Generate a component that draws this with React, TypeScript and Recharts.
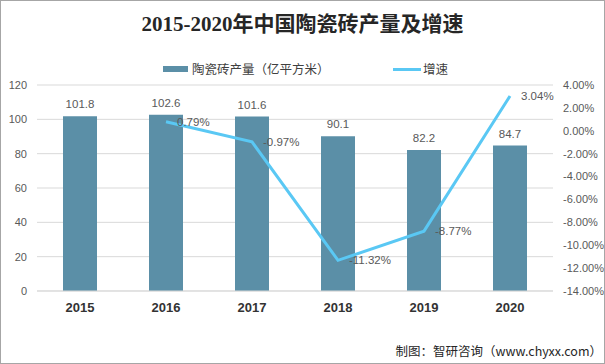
import React from "react";
import { ComposedChart, Bar, Line, XAxis, YAxis, CartesianGrid, Legend, LabelList } from "recharts";

const years = ["2015", "2016", "2017", "2018", "2019", "2020"];
const output = [101.8, 102.6, 101.6, 90.1, 82.2, 84.7];
const growth: (number | null)[] = [null, 0.79, -0.97, -11.32, -8.77, 3.04];
const leftTicks = [0, 20, 40, 60, 80, 100, 120];
const rightTicks = [-14, -12, -10, -8, -6, -4, -2, 0, 2, 4];

const data = years.map((y, i) => ({ year: y, output: output[i], growth: growth[i] }));

const BAR = "#5b8fa7";
const LINE = "#5ac8f4";
const numFont = "'Liberation Sans', 'Noto Sans CJK SC', sans-serif";
const cjkFont = "'Noto Sans CJK SC', sans-serif";

function GrowthLabel(props: any) {
  const { x, y, value } = props;
  if (value == null) return null;
  return (
    <text x={x + 11} y={y + 4} fill="#595959" fontSize={11.5} fontFamily={numFont} textAnchor="start">
      {value.toFixed(2)}%
    </text>
  );
}

function LegendContent() {
  const txt: React.CSSProperties = { position: "absolute", top: 0, fontSize: 12.5, lineHeight: "16px", color: "#404040", fontFamily: cjkFont, whiteSpace: "nowrap" };
  return (
    <div style={{ position: "relative", height: 18 }}>
      <span style={{ position: "absolute", left: 162, top: 5, width: 25, height: 6, background: BAR }} />
      <span style={{ ...txt, left: 191 }}>陶瓷砖产量（亿平方米）</span>
      <span style={{ position: "absolute", left: 392, top: 7, width: 28, height: 3, background: LINE }} />
      <span style={{ ...txt, left: 422 }}>增速</span>
    </div>
  );
}

export default function App() {
  return (
    <div style={{ position: "relative", width: 605, height: 364, boxSizing: "border-box", border: "1px solid #a6a6a6", background: "#fff", overflow: "hidden" }}>
      <style>{"body{margin:0}"}</style>
      <div style={{ position: "absolute", top: 10, left: 0, width: 603, textAlign: "center", fontSize: 21, lineHeight: "26px", fontWeight: "bold", color: "#262626", fontFamily: "'Liberation Serif', 'Noto Sans CJK SC', serif" }}>
        2015-2020年中国陶瓷砖产量及增速
      </div>
      <ComposedChart width={603} height={362} data={data} margin={{ top: 84, right: 0, bottom: 42, left: 0 }} style={{ position: "absolute", top: 0, left: 0 }}>
        <CartesianGrid yAxisId="left" vertical={false} stroke="#d9d9d9" />
        <XAxis dataKey="year" axisLine={{ stroke: "#d9d9d9" }} tickLine={false} tickMargin={6} height={30}
          tick={{ fill: "#333333", fontSize: 13, fontWeight: "bold", fontFamily: numFont }} />
        <YAxis yAxisId="left" width={36} domain={[0, 120]} ticks={leftTicks} axisLine={false} tickLine={false} tickMargin={4}
          tick={{ fill: "#595959", fontSize: 11, fontFamily: numFont }} />
        <YAxis yAxisId="right" orientation="right" width={51} domain={[-14, 4]} ticks={rightTicks} axisLine={false} tickLine={false} tickMargin={4}
          tickFormatter={(v: number) => `${v.toFixed(2)}%`}
          tick={{ fill: "#595959", fontSize: 11, fontFamily: numFont, textAnchor: "start" }} />
        <Legend verticalAlign="middle" align="center" layout="horizontal" content={<LegendContent />}
          wrapperStyle={{ position: "absolute", top: 60, left: 0, width: 603 }} />
        <Bar yAxisId="left" dataKey="output" fill={BAR} barSize={34} isAnimationActive={false}>
          <LabelList dataKey="output" position="top" offset={8} fill="#595959" fontSize={11.5} fontFamily={numFont} />
        </Bar>
        <Line yAxisId="right" dataKey="growth" stroke={LINE} strokeWidth={3} dot={false} isAnimationActive={false} connectNulls={false}>
          <LabelList dataKey="growth" content={<GrowthLabel />} />
        </Line>
      </ComposedChart>
      <div style={{ position: "absolute", right: 2, top: 341, fontSize: 12.5, lineHeight: "18px", color: "#262626", fontFamily: cjkFont, whiteSpace: "nowrap" }}>
        制图：智研咨询（www.chyxx.com）
      </div>
    </div>
  );
}
